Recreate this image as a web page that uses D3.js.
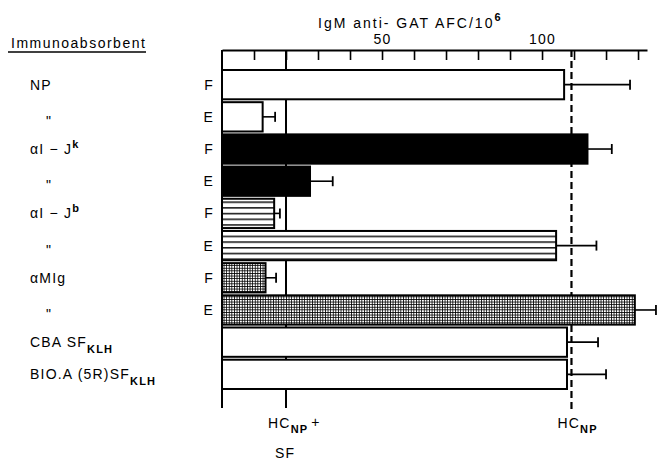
<!DOCTYPE html>
<html><head><meta charset="utf-8">
<script src="https://cdn.jsdelivr.net/npm/d3@7"></script>
<style>
body{margin:0;background:#fff}
text{font-family:"Liberation Sans",Arial,sans-serif;fill:#000;font-size:14px;letter-spacing:1.2px}
</style></head><body>
<svg id="c" width="659" height="460"></svg>
<script>
// ---- data ----
const rowIds    = ["NP-F","NP-E","Jk-F","Jk-E","Jb-F","Jb-E","MIg-F","MIg-E","CBA","B10"];
const groups    = ["NP","NP","Jk","Jk","Jb","Jb","MIg","MIg","CBA","B10"];
const labelText = ["NP","\"","\u03b1I \u2212 J","\"","\u03b1I \u2212 J","\"","\u03b1MIg","\"","CBA  SF","BIO.A (5R)SF"];
const labelSup  = ["","","k","","b","","","","",""];
const labelSub  = ["","","","","","","","","KLH","KLH"];
const fractions = ["F","E","F","E","F","E","F","E","",""];
const means     = [106.9,12.7,114.2,27.5,16.3,104.4,13.6,129.0,107.8,107.8];
const upper     = [127.5,16.6,121.8,34.6,18.1,117.0,16.9,135.6,117.5,120.0];
const tickValues   = [10,20,30,40,50,60,70,80,90,100,110,120,130];
const labeledTicks = [50,100];
const refValues = [20,109.2];

// ---- chart ----
const svg = d3.select("#c");
const x = d3.scaleLinear().domain([0,132.8]).range([222,647]);
const y = d3.scaleBand().domain(rowIds).range([70,389]).paddingInner(0.09).paddingOuter(0);
const rows = rowIds.map((id,i)=>({id,group:groups[i],text:labelText[i],sup:labelSup[i],sub:labelSub[i],frac:fractions[i],mean:means[i],up:upper[i]}));

const defs = svg.append("defs");
const ph = defs.append("pattern").attr("id","hl").attr("patternUnits","userSpaceOnUse").attr("width",10).attr("height",5.7);
ph.append("rect").attr("width",10).attr("height",5.7).attr("fill","#fff");
ph.append("rect").attr("y",2).attr("width",10).attr("height",1.4).attr("fill","#000");
const pd = defs.append("pattern").attr("id","dot").attr("patternUnits","userSpaceOnUse").attr("width",2.6).attr("height",2.6);
pd.append("rect").attr("width",2.6).attr("height",2.6).attr("fill","#000");
pd.append("rect").attr("x",0.8).attr("y",0.8).attr("width",1.8).attr("height",1.8).attr("fill","#fff");

const fillOf = d3.scaleOrdinal().domain(["NP","Jk","Jb","MIg","CBA","B10"])
  .range(["#fff","#000","url(#hl)","url(#dot)","#fff","#fff"]);

const yTop = 50, yBot = 408;

// top axis
const axis = d3.axisTop(x).tickValues(tickValues).tickSizeInner(-10).tickSizeOuter(0).tickPadding(6)
  .tickFormat(d=>labeledTicks.includes(d)?d:"");
const ga = svg.append("g").attr("transform",`translate(0,${yTop})`).call(axis);
ga.select(".domain").attr("stroke","#000").attr("stroke-width",2);
ga.selectAll(".tick line").attr("stroke","#000").attr("stroke-width",1.6);
ga.selectAll(".tick text").style("font-size","14px").style("font-family","Liberation Sans, Arial, sans-serif").attr("fill","#000");

// title
const tt = svg.append("text").attr("x",318).attr("y",28).style("letter-spacing","2px");
tt.append("tspan").text("IgM  anti- GAT  AFC/10");
tt.append("tspan").attr("dy",-7).style("font-size","11px").style("font-weight","bold").text("6");

// left axis (zero line)
svg.append("line").attr("x1",x(0)).attr("x2",x(0)).attr("y1",yTop).attr("y2",yBot).attr("stroke","#000").attr("stroke-width",2);

// reference lines
svg.append("line").attr("x1",x(refValues[0])).attr("x2",x(refValues[0])).attr("y1",yTop).attr("y2",yBot)
  .attr("stroke","#000").attr("stroke-width",2);
svg.append("line").attr("x1",x(refValues[1])).attr("x2",x(refValues[1])).attr("y1",yTop).attr("y2",yBot+2)
  .attr("stroke","#000").attr("stroke-width",2.2).attr("stroke-dasharray","7,4");

// bars
svg.selectAll("rect.bar").data(rows).join("rect").attr("class","bar")
  .attr("x",x(0)).attr("y",d=>y(d.id)).attr("width",d=>x(d.mean)-x(0)).attr("height",y.bandwidth())
  .attr("fill",d=>fillOf(d.group)).attr("stroke","#000").attr("stroke-width",2);

// error bars
const eb = svg.selectAll("g.err").data(rows).join("g").attr("class","err");
eb.append("line").attr("x1",d=>x(d.mean)).attr("x2",d=>x(d.up))
  .attr("y1",d=>y(d.id)+y.bandwidth()/2).attr("y2",d=>y(d.id)+y.bandwidth()/2).attr("stroke","#000").attr("stroke-width",1.6);
eb.append("line").attr("x1",d=>x(d.up)).attr("x2",d=>x(d.up))
  .attr("y1",d=>y(d.id)+y.bandwidth()/2-5).attr("y2",d=>y(d.id)+y.bandwidth()/2+5).attr("stroke","#000").attr("stroke-width",1.8);

// F / E labels
svg.selectAll("text.frac").data(rows.filter(d=>d.frac)).join("text").attr("class","frac")
  .attr("x",214).attr("y",d=>y(d.id)+y.bandwidth()/2+5).attr("text-anchor","end").text(d=>d.frac);

// immunoabsorbent labels
const lt = svg.selectAll("text.lab").data(rows).join("text").attr("class","lab")
  .attr("x",d=>d.text==="\""?46:30)
  .attr("y",d=>y(d.id)+y.bandwidth()/2+(d.text==="\""?9:5));
lt.append("tspan").text(d=>d.text);
lt.filter(d=>d.sup).append("tspan").attr("dy",-6).style("font-size","11px").style("font-weight","bold").text(d=>d.sup);
lt.filter(d=>d.sub).append("tspan").attr("dy",6).style("font-size","11px").style("font-weight","bold").text(d=>d.sub);

// header
svg.append("text").attr("x",11).attr("y",48).style("letter-spacing","1.5px").text("Immunoabsorbent");
svg.append("line").attr("x1",8).attr("x2",146).attr("y1",52).attr("y2",52).attr("stroke","#000").attr("stroke-width",1.5);

// bottom reference labels
const b1 = svg.append("text").attr("x",x(refValues[0])-18).attr("y",428);
b1.append("tspan").text("HC");
b1.append("tspan").attr("dy",5).style("font-size","11px").style("font-weight","bold").text("NP");
b1.append("tspan").attr("dy",-6).attr("dx",3).text("+");
svg.append("text").attr("x",x(refValues[0])-11).attr("y",458).text("SF");
const b2 = svg.append("text").attr("x",x(refValues[1])-14).attr("y",428);
b2.append("tspan").text("HC");
b2.append("tspan").attr("dy",5).style("font-size","11px").style("font-weight","bold").text("NP");
</script></body></html>
